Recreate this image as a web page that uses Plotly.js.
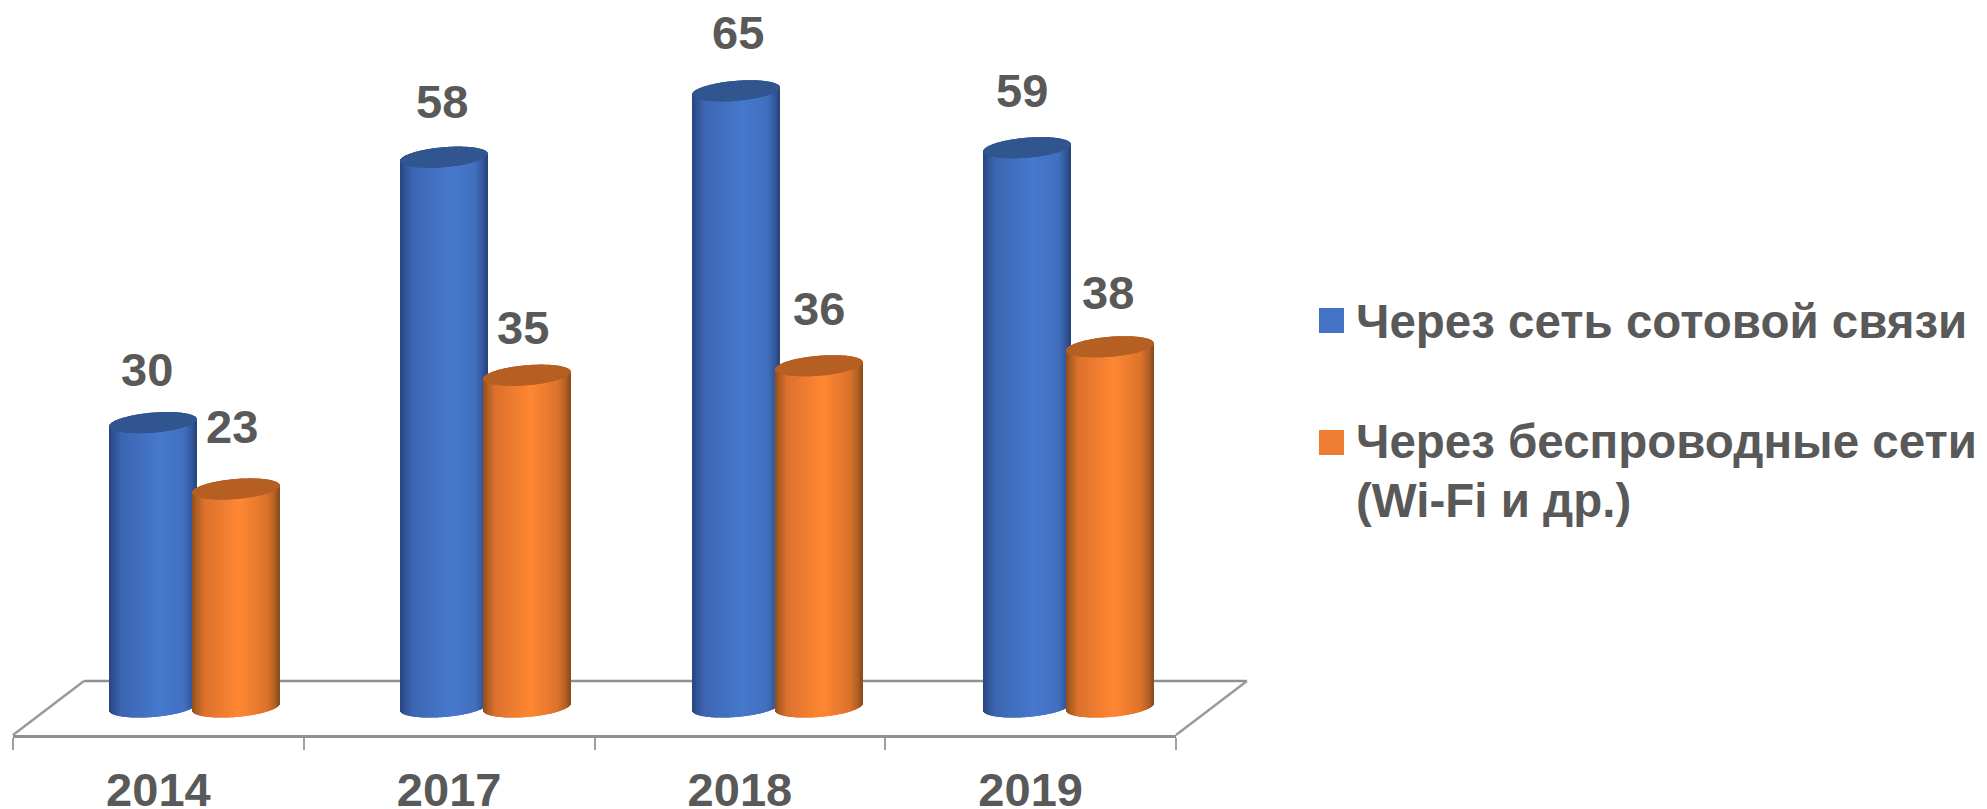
<!DOCTYPE html>
<html>
<head>
<meta charset="utf-8">
<script src="https://cdn.plot.ly/plotly-3.0.1.min.js"></script>
<style>html,body{margin:0;padding:0;background:#fff}#chart{width:1987px;height:809px}</style>
</head>
<body>
<div id="chart"></div>
<script>
const categories = ['2014', '2017', '2018', '2019'];
const seriesCellular = [30, 58, 65, 59];
const seriesWireless = [23, 35, 36, 38];
const nameCellular = 'Через сеть сотовой связи';
const nameWireless = ['Через беспроводные сети', '(Wi-Fi и др.)'];

// Geometry in pixels
const W = 1987, H = 809;
const plotL = 13, plotR = 1176, plotB = 735;
const zeroPx = 707, pxPerUnit = 9.48;
const pitch = (plotR - plotL) / categories.length;
const barW = 87, halfW = barW / 2, capB = 10, capTilt = 3.5, barDrift = 0.6;
const depthX = 71, depthY = 54;
const textColor = '#595959', font = 'Liberation Sans';

const blueStops = [[0, '#27457e'], [0.05, '#2f5292'], [0.14, '#3c65b2'], [0.58, '#4678cc'], [0.86, '#4170bf'], [0.95, '#33599e'], [1, '#254478']];
const orangeStops = [[0, '#8f4d1c'], [0.05, '#ae5d22'], [0.14, '#dc712d'], [0.55, '#ff8733'], [0.86, '#dc722b'], [0.95, '#b26024'], [1, '#8a4a1a']];

function hex(c) { return [1, 3, 5].map(i => parseInt(c.substr(i, 2), 16)); }
function shade(stops, t) {
  for (let i = 1; i < stops.length; i++) {
    if (t <= stops[i][0]) {
      const a = stops[i - 1], b = stops[i], f = (t - a[0]) / (b[0] - a[0]);
      const ca = hex(a[1]), cb = hex(b[1]);
      return 'rgb(' + ca.map((v, j) => Math.round(v + (cb[j] - v) * f)).join(',') + ')';
    }
  }
  return stops[stops.length - 1][1];
}

function cylinder(values, name, offsetPx, stops, capColor) {
  const body = { x: [], y: [], base: [], width: [], offset: [], color: [] };
  const cap = { x: [], y: [], base: [], width: [], offset: [] };
  categories.forEach((cat, k) => {
    for (let i = 0; i < barW; i++) {
      const u = (i + 0.5 - halfW) / halfW;
      const s = Math.sqrt(Math.max(0, 1 - u * u));
      const tilt = capTilt * u / pxPerUnit, round = capB * s / pxPerUnit;
      const off = (offsetPx + k * barDrift + i) / pitch;
      body.x.push(cat);
      body.base.push(tilt - round);
      body.y.push(values[k] + round);
      body.width.push(1 / pitch);
      body.offset.push(off);
      body.color.push(shade(stops, (i + 0.5) / barW));
      cap.x.push(cat);
      cap.base.push(values[k] + tilt - round);
      cap.y.push(2 * round);
      cap.width.push(1 / pitch);
      cap.offset.push(off);
    }
  });
  const common = { type: 'bar', name: name, hoverinfo: 'skip', showlegend: false };
  return [
    Object.assign({}, common, { x: body.x, y: body.y, base: body.base, width: body.width, offset: body.offset, marker: { color: body.color, line: { width: 0 } } }),
    Object.assign({}, common, { x: cap.x, y: cap.y, base: cap.base, width: cap.width, offset: cap.offset, marker: { color: capColor, line: { width: 0 } } })
  ];
}

const traces = [].concat(
  cylinder(seriesCellular, nameCellular, -48.8, blueStops, '#31558f'),
  cylinder(seriesWireless, nameWireless.join(' '), 34.2, orangeStops, '#b55f22')
);

// Pixel placement helpers
const pxX = p => (p - plotL) / (plotR - plotL);
const pxY = p => (plotB - p) / plotB;

const shapes = [];
function floorLine(x0, y0, x1, y1, w, c) {
  shapes.push({ type: 'line', xref: 'paper', yref: 'paper', layer: 'below', x0: pxX(x0), y0: pxY(y0), x1: pxX(x1), y1: pxY(y1), line: { color: c, width: w } });
}
floorLine(plotL + depthX, plotB - depthY, plotR + depthX, plotB - depthY, 2.5, '#909090');
floorLine(plotL, plotB, plotL + depthX, plotB - depthY, 2.5, '#9a9a9a');
floorLine(plotR, plotB, plotR + depthX, plotB - depthY, 2.5, '#9a9a9a');

function swatch(y0, y1, c) {
  shapes.push({ type: 'rect', xref: 'paper', yref: 'paper', x0: pxX(1319), x1: pxX(1344), y0: pxY(y0), y1: pxY(y1), fillcolor: c, line: { width: 0 } });
}
swatch(308, 333, '#4472c4');
swatch(430, 455, '#ed7d31');

// Data label offsets in pixels relative to the category centre and bar top
const cellularLabelDx = [-11.6, -7.6, -1.6, -8.6], cellularLabelDy = [53.6, 56, 58, 56.7];
const wirelessLabelDx = [73.4, 73.4, 79.4, 77.4], wirelessLabelDy = [62, 48, 57.7, 53.8];

const annotations = [];
function labels(values, dx, dy) {
  values.forEach((v, k) => annotations.push({
    xref: 'x', yref: 'y', x: k, y: v, xshift: dx[k], yshift: dy[k], text: String(v), showarrow: false,
    xanchor: 'center', yanchor: 'middle', font: { family: font, size: 47, color: textColor, weight: 700 }
  }));
}
labels(seriesCellular, cellularLabelDx, cellularLabelDy);
labels(seriesWireless, wirelessLabelDx, wirelessLabelDy);

function legendText(text, yPx) {
  annotations.push({
    xref: 'paper', yref: 'paper', x: pxX(1354), y: pxY(yPx), text: text, showarrow: false, align: 'left',
    xanchor: 'left', yanchor: 'middle', font: { family: font, size: 47.5, color: textColor, weight: 700 }
  });
}
legendText(nameCellular, 321);
legendText(nameWireless[0], 442);
legendText(nameWireless[1], 500);

const layout = {
  width: W, height: H,
  margin: { l: plotL, r: W - plotR, t: 0, b: H - plotB, pad: 0 },
  paper_bgcolor: '#fff', plot_bgcolor: 'rgba(0,0,0,0)',
  barmode: 'overlay', showlegend: false, shapes: shapes, annotations: annotations,
  xaxis: {
    type: 'category', categoryorder: 'array', categoryarray: categories, range: [-0.5, 3.5], fixedrange: true,
    tickson: 'boundaries', ticks: 'outside', ticklen: 12, tickwidth: 1.5, tickcolor: '#a0a0a0',
    showline: true, linecolor: '#909090', linewidth: 2.5, showgrid: false, zeroline: false, ticklabelstandoff: 12,
    tickfont: { family: font, size: 47, color: textColor, weight: 700 }
  },
  yaxis: {
    range: [(zeroPx - plotB) / pxPerUnit, zeroPx / pxPerUnit], visible: false, fixedrange: true, showgrid: false, zeroline: false
  }
};

Plotly.newPlot('chart', traces, layout, { displayModeBar: false });
</script>
</body>
</html>
